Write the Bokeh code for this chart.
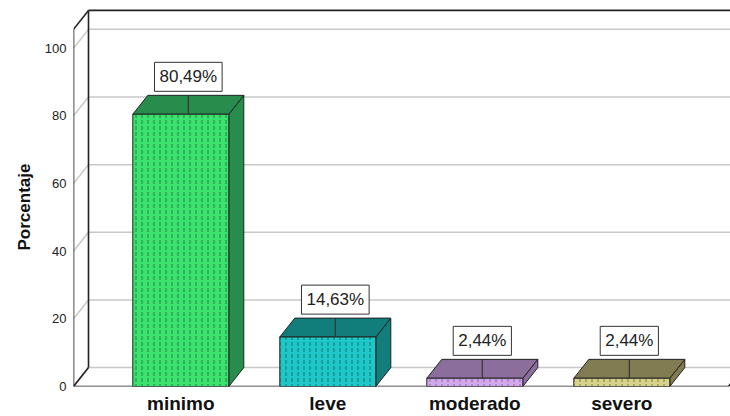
from bokeh.plotting import figure
from bokeh.models import Range1d, FixedTicker, ColumnDataSource, Title
from bokeh.embed import file_html
from bokeh.resources import INLINE
from bokeh.core.properties import value

# ---- data ----
categories = ["minimo", "leve", "moderado", "severo"]
percentages = [80.49, 14.63, 2.44, 2.44]
y_ticks = [0, 20, 40, 60, 80, 100]
front_colors = ["#3CE26E", "#1FC8C8", "#D2A8EC", "#D7D38A"]
dark_colors = ["#288C4C", "#127E7B", "#8B6E9C", "#817C52"]
hatch_colors = ["#23804A", "#0E7573", "#8A6A9A", "#7E7A4E"]
y_title = "Porcentaje"

# ---- layout constants (pixels) ----
W, H = 730, 416
LEFT, BOTTOM = 73, 28
PX_PER_CAT = 147.0
PX_PER_UNIT = 3.4
DX_PX, DY_PX = 15.0, 19.0

frame_w = W - LEFT
frame_h = H - BOTTOM
x0 = -0.73
x_end = x0 + frame_w / PX_PER_CAT
y_end = frame_h / PX_PER_UNIT
dx = DX_PX / PX_PER_CAT
dy = DY_PX / PX_PER_UNIT
hw = 48.0 / PX_PER_CAT
wall_top = 105.6
floor_right = x0 + 655.0 / PX_PER_CAT

p = figure(width=W, height=H, output_backend="svg", toolbar_location=None,
           x_range=Range1d(x0, x_end), y_range=Range1d(0, y_end),
           min_border_left=LEFT, min_border_right=0, min_border_top=0,
           min_border_bottom=BOTTOM)
p.outline_line_color = None
p.grid.visible = False
p.background_fill_color = "white"
p.border_fill_color = "white"

font = "Liberation Sans"

# y axis
ya = p.yaxis[0]
ya.ticker = FixedTicker(ticks=y_ticks)
ya.axis_line_color = None
ya.major_tick_line_color = None
ya.minor_tick_line_color = None
ya.major_tick_out = 0
ya.major_tick_in = 0
ya.minor_tick_out = 0
ya.minor_tick_in = 0
ya.major_label_standoff = 7
ya.major_label_text_font = font
ya.major_label_text_font_size = "13px"
ya.major_label_text_color = "#222222"

# y title, centred on the front wall (starts 136 px above the floor)
p.add_layout(Title(text=y_title, align="left", offset=136, standoff=15,
                   text_font=font, text_font_style="bold", text_font_size="17px",
                   text_color="#111111"), "left")

# x axis
xa = p.xaxis[0]
xa.ticker = FixedTicker(ticks=list(range(len(categories))))
xa.major_label_overrides = {i: c for i, c in enumerate(categories)}
xa.axis_line_color = None
xa.major_tick_line_color = None
xa.minor_tick_line_color = None
xa.major_tick_out = 0
xa.major_tick_in = 0
xa.minor_tick_out = 0
xa.minor_tick_in = 0
xa.major_label_standoff = 6
xa.major_label_text_font = font
xa.major_label_text_font_style = "bold"
xa.major_label_text_font_size = "19px"
xa.major_label_text_color = "#111111"

# ---- walls ----
p.segment(x0=[x0 + dx] * len(y_ticks), y0=[t + dy for t in y_ticks],
          x1=[floor_right + dx] * len(y_ticks), y1=[t + dy for t in y_ticks],
          line_color="#C8C8C8", line_width=1.5)
p.segment(x0=[x0] * len(y_ticks), y0=y_ticks,
          x1=[x0 + dx] * len(y_ticks), y1=[t + dy for t in y_ticks],
          line_color="#C8C8C8", line_width=1.5)
edge_x0 = [x0, x0 + dx, x0, x0 + dx, x0, x0, floor_right]
edge_y0 = [0, dy, wall_top, wall_top + dy, 0, 0, 0]
edge_x1 = [x0, x0 + dx, x0 + dx, floor_right + dx, x0 + dx, floor_right, floor_right + dx]
edge_y1 = [wall_top, wall_top + dy, wall_top + dy, wall_top + dy, dy, 0, dy]
p.segment(x0=edge_x0, y0=edge_y0, x1=edge_x1, y1=edge_y1,
          line_color="#222222", line_width=1.6)

# ---- bars ----
idx = list(range(len(categories)))
side_xs = [[i + hw, i + hw + dx, i + hw + dx, i + hw] for i in idx]
side_ys = [[0, dy, v + dy, v] for v in percentages]
top_xs = [[i - hw, i + hw, i + hw + dx, i - hw + dx] for i in idx]
top_ys = [[v, v, v + dy, v + dy] for v in percentages]
p.patches(xs=side_xs, ys=side_ys, fill_color=dark_colors,
          line_color="#222222", line_width=1)
p.patches(xs=top_xs, ys=top_ys, fill_color=dark_colors,
          line_color="#222222", line_width=1)

src = ColumnDataSource(dict(left=[i - hw for i in idx], right=[i + hw for i in idx],
                            top=percentages, bottom=[0] * len(idx),
                            fill=front_colors, hatch=hatch_colors))
p.quad(left="left", right="right", top="top", bottom="bottom", source=src,
       fill_color="fill", line_color="#222222", line_width=1,
       hatch_pattern=":", hatch_color="hatch", hatch_scale=6, hatch_weight=1)

# leader lines
p.segment(x0=[i + dx / 2 for i in idx], y0=[v + dy for v in percentages],
          x1=[i + dx / 2 for i in idx], y1=percentages,
          line_color="#333333", line_width=1.2)

# value labels
labels = [("%.2f" % v).replace(".", ",") + "%" for v in percentages]
p.text(x=[i + dx / 2 for i in idx], y=[v + dy for v in percentages], text=labels,
       text_align="center", text_baseline="bottom",
       text_font=value(font), text_font_size="17px", text_color="#222222",
       y_offset=-4, background_fill_color="white",
       border_line_color="#333333", border_line_width=1, padding=5)

open("out.html", "w").write(file_html(p, INLINE))
